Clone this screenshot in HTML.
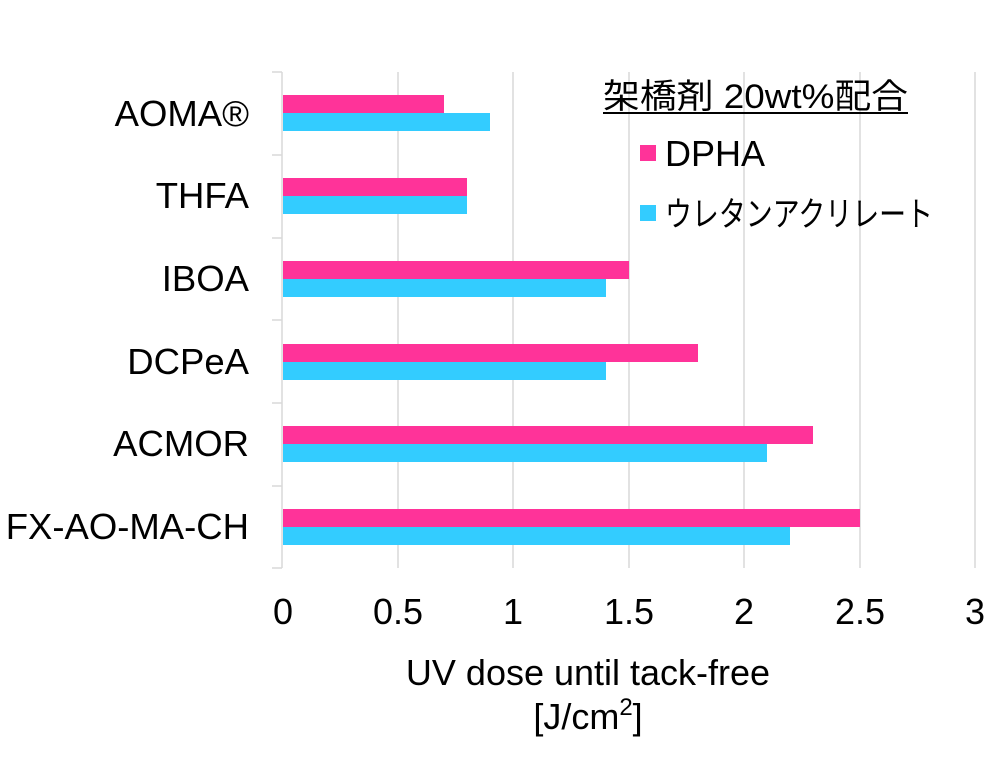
<!DOCTYPE html>
<html><head><meta charset="utf-8"><style>
body{margin:0;background:#fff}
</style></head><body>
<svg width="1000" height="761" xmlns="http://www.w3.org/2000/svg" font-family="'Liberation Sans','Noto Sans CJK JP',sans-serif">
<rect width="1000" height="761" fill="#fff"/>
<g stroke="#d9d9d9" stroke-width="1.5">
<line x1="398" y1="72" x2="398" y2="568"/><line x1="513" y1="72" x2="513" y2="568"/><line x1="629" y1="72" x2="629" y2="568"/><line x1="744" y1="72" x2="744" y2="568"/><line x1="860" y1="72" x2="860" y2="568"/><line x1="975" y1="72" x2="975" y2="568"/>
<line x1="282" y1="72" x2="282" y2="568"/>
<line x1="272" y1="72" x2="282" y2="72"/><line x1="272" y1="155" x2="282" y2="155"/><line x1="272" y1="238" x2="282" y2="238"/><line x1="272" y1="320" x2="282" y2="320"/><line x1="272" y1="403" x2="282" y2="403"/><line x1="272" y1="486" x2="282" y2="486"/><line x1="272" y1="568" x2="282" y2="568"/>
</g>
<g fill="#ff3399">
<rect x="283" y="95" width="161" height="18"/><rect x="283" y="178" width="184" height="18"/><rect x="283" y="261" width="346" height="18"/><rect x="283" y="344" width="415" height="18"/><rect x="283" y="426" width="530" height="18"/><rect x="283" y="509" width="577" height="18"/>
</g>
<g fill="#33ccff">
<rect x="283" y="113" width="207" height="18"/><rect x="283" y="196" width="184" height="18"/><rect x="283" y="279" width="323" height="18"/><rect x="283" y="362" width="323" height="18"/><rect x="283" y="444" width="484" height="18"/><rect x="283" y="527" width="507" height="18"/>
</g>
<g font-size="36.5" text-anchor="end" fill="#000">
<text x="249" y="126">AOMA®</text><text x="249" y="208">THFA</text><text x="249" y="291">IBOA</text><text x="249" y="374">DCPeA</text><text x="249" y="456">ACMOR</text><text x="249" y="539">FX-AO-MA-CH</text>
</g>
<g font-size="36" text-anchor="middle" fill="#000">
<text x="283" y="624">0</text><text x="398" y="624">0.5</text><text x="513" y="624">1</text><text x="629" y="624">1.5</text><text x="744" y="624">2</text><text x="860" y="624">2.5</text><text x="975" y="624">3</text>
<text x="588" y="685">UV dose until tack-free</text>
<text x="588" y="729">[J/cm<tspan font-size="24" dy="-14">2</tspan><tspan dy="14">]</tspan></text>
</g>
<text x="603" y="108" font-size="34" fill="#000" textLength="305" lengthAdjust="spacingAndGlyphs">架橋剤 20wt%配合</text>
<line x1="603" y1="113" x2="908" y2="113" stroke="#000" stroke-width="2"/>
<rect x="640" y="145" width="16" height="16" fill="#ff3399"/>
<text x="665" y="166" font-size="36" fill="#000">DPHA</text>
<rect x="640" y="205" width="16" height="16" fill="#33ccff"/>
<text x="665" y="226" font-size="34" fill="#000" textLength="268" lengthAdjust="spacingAndGlyphs">ウレタンアクリレート</text>
</svg>
</body></html>
